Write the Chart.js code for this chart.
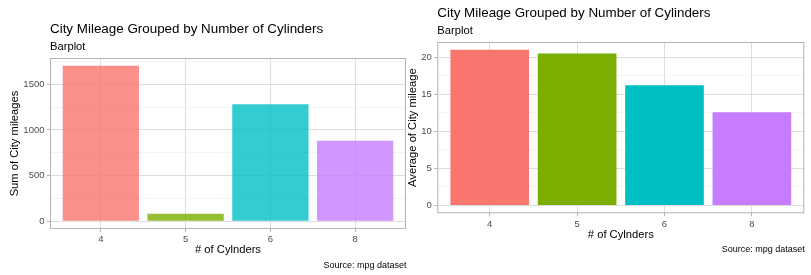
<!DOCTYPE html>
<html>
<head>
<meta charset="utf-8">
<script src="https://cdn.jsdelivr.net/npm/chart.js@4/dist/chart.umd.min.js"></script>
<style>
  html, body { margin: 0; padding: 0; background: #fff; }
  #wrap { position: relative; width: 811px; height: 275px; overflow: hidden; }
  .box { position: absolute; top: 0; height: 275px; }
  #sumBox { left: 0; width: 410px; }
  #avgBox { left: 405px; width: 406px; }
</style>
</head>
<body>
<div id="wrap">
  <div class="box" id="sumBox"><canvas id="sumChart"></canvas></div>
  <div class="box" id="avgBox"><canvas id="avgChart"></canvas></div>
</div>
<script>
// mpg dataset, city mileage per number of cylinders
const cylinders = ['4', '5', '6', '8']
const citySum = [1702, 82, 1281, 880]
const cityAvg = [21.01, 20.50, 16.22, 12.57]

const sumTicks = [0, 250, 500, 750, 1000, 1250, 1500, 1750]
const sumLabels = [0, 500, 1000, 1500]
const avgTicks = [0, 2.5, 5, 7.5, 10, 12.5, 15, 17.5, 20]
const avgLabels = [0, 5, 10, 15, 20]

const barColors = ['#F8766D', '#7CAE00', '#00BFC4', '#C77CFF']
const fadedColors = ['rgba(248,118,109,0.8)', 'rgba(124,174,0,0.8)', 'rgba(0,191,196,0.8)', 'rgba(199,124,255,0.8)']

const FONT = '"Liberation Sans", Arial, Helvetica, sans-serif'

// titles, subtitle, caption and the panel border (ggplot style, aligned with the panel)
const panelDecor = {
  id: 'panelDecor',
  afterDatasetsDraw(chart) {
    const {ctx, chartArea} = chart
    ctx.save()
    ctx.strokeStyle = '#B3B3B3'
    ctx.lineWidth = 1
    ctx.strokeRect(chartArea.left + 0.5, chartArea.top + 0.5,
      chartArea.right - chartArea.left - 1, chartArea.bottom - chartArea.top - 1)
    ctx.restore()
  },
  afterDraw(chart, args, opts) {
    const {ctx, chartArea} = chart
    ctx.save()
    ctx.fillStyle = '#000'
    ctx.textBaseline = 'alphabetic'
    ctx.textAlign = 'left'
    ctx.font = `13.4px ${FONT}`
    ctx.fillText(opts.title, chartArea.left, chartArea.top - 25)
    ctx.font = `11.2px ${FONT}`
    ctx.fillText(opts.subtitle, chartArea.left, chartArea.top - 7.6)
    ctx.font = `9px ${FONT}`
    ctx.textAlign = 'right'
    ctx.fillText(opts.caption, chartArea.right + 0.5, chartArea.bottom + 39)
    ctx.restore()
  },
}

function createBarChart(canvasId, values, colors, yTicks, yLabels, yTitle, layout) {
  const top = Math.max(...values)
  const ctx = document.getElementById(canvasId).getContext('2d')

  return new Chart(ctx, {
    type: 'bar',
    data: {
      datasets: [{
        data: values.map((v, i) => ({x: i, y: v})),
        backgroundColor: colors,
        borderWidth: 0,
        barPercentage: 0.9,
        categoryPercentage: 1.0,
      }],
    },
    options: {
      responsive: true,
      maintainAspectRatio: false,
      animation: false,
      layout: {padding: layout.padding},
      plugins: {
        legend: {display: false},
        tooltip: {enabled: false},
        panelDecor: {
          title: 'City Mileage Grouped by Number of Cylinders',
          subtitle: 'Barplot',
          caption: 'Source: mpg dataset',
        },
      },
      scales: {
        x: {
          type: 'linear',
          offset: false,
          min: -0.6,
          max: cylinders.length - 0.4,
          afterBuildTicks: scale => {
            scale.ticks = cylinders.map((c, i) => ({value: i}))
          },
          afterFit: scale => { scale.height = layout.xHeight },
          ticks: {
            color: '#4D4D4D',
            font: {family: FONT, size: 9.5},
            padding: 2,
            maxRotation: 0,
            callback: value => cylinders[value],
          },
          grid: {
            offset: false,
            color: '#DEDEDE',
            lineWidth: 1,
            tickColor: '#B3B3B3',
            tickLength: 3,
          },
          border: {display: false},
          title: {
            display: true,
            text: '# of Cylnders',
            color: '#000',
            font: {family: FONT, size: 11.2},
            padding: {top: 0, bottom: 0},
          },
        },
        y: {
          min: -0.05 * top,
          max: 1.05 * top,
          afterBuildTicks: scale => {
            scale.ticks = yTicks.map(v => ({value: v}))
          },
          afterFit: scale => { scale.width = layout.yWidth },
          ticks: {
            color: '#4D4D4D',
            font: {family: FONT, size: 9.5},
            padding: 2.5,
            callback: value => yLabels.includes(value) ? String(value) : '',
          },
          grid: {
            color: c => yLabels.includes(c.tick.value) ? '#DEDEDE' : '#EDEDED',
            lineWidth: c => yLabels.includes(c.tick.value) ? 1 : 0.6,
            tickColor: c => yLabels.includes(c.tick.value) ? '#B3B3B3' : 'rgba(0,0,0,0)',
            tickLength: 3,
          },
          border: {display: false},
          title: {
            display: true,
            text: yTitle,
            color: '#000',
            font: {family: FONT, size: 11.2},
            padding: {top: layout.yTitlePad, bottom: 0},
          },
        },
      },
    },
    plugins: [panelDecor],
  })
}

document.addEventListener('DOMContentLoaded', () => {
  createBarChart('sumChart', citySum, fadedColors, sumTicks, sumLabels, 'Sum of City mileages', {
    padding: {top: 58, right: 4, bottom: 18, left: 0},
    xHeight: 28,
    yWidth: 50,
    yTitlePad: 8.3,
  })
  createBarChart('avgChart', cityAvg, barColors, avgTicks, avgLabels, 'Average of City mileage', {
    padding: {top: 42, right: 6.7, bottom: 33, left: 0},
    xHeight: 28.7,
    yWidth: 32.3,
    yTitlePad: 0.8,
  })
})
</script>
</body>
</html>
